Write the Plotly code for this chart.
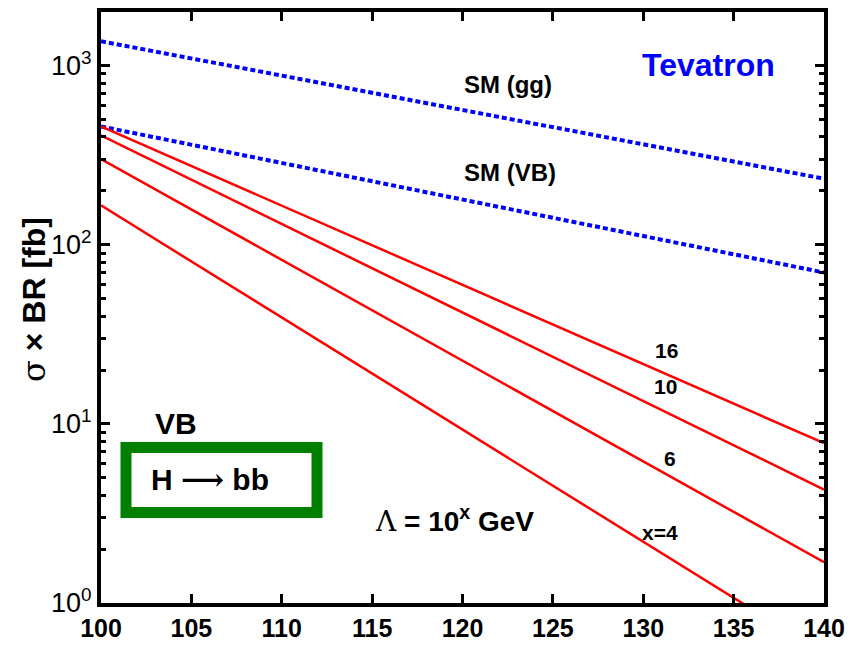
import plotly.graph_objects as go

# Higgs mass grid (GeV) and cross section x branching ratio (fb)
mass = [100, 140]
sm_gg = [1370, 234]
sm_vb = [458, 70]
vb_lambda16 = [458, 7.8]
vb_lambda10 = [408, 4.3]
vb_lambda6 = [301, 1.69]
vb_lambda4 = [166, 0.52]

x_ticks = [100, 105, 110, 115, 120, 125, 130, 135, 140]
y_ticks = [1, 10, 100, 1000]
y_tick_text = ["10<sup>0</sup>", "10<sup>1</sup>", "10<sup>2</sup>", "10<sup>3</sup>"]
y_minor = [m * 10 ** e for e in range(0, 4) for m in range(2, 10)]

W, H = 852, 647
L, R, T, B = 101, 824, 12, 603
FONT = "Liberation Sans, Arial, Helvetica, sans-serif"
SERIF = "DejaVu Serif, Liberation Serif, serif"


def px(p):
    return (p - L) / (R - L)


def py(p):
    return (B - p) / (B - T)


fig = go.Figure()

for ys in (sm_gg, sm_vb):
    fig.add_trace(go.Scatter(x=mass, y=ys, mode="lines",
                             line=dict(color="#0000ff", width=4, dash="5px,3px"),
                             showlegend=False, hoverinfo="skip"))

for ys in (vb_lambda16, vb_lambda10, vb_lambda6, vb_lambda4):
    fig.add_trace(go.Scatter(x=mass, y=ys, mode="lines",
                             line=dict(color="#ff0000", width=2.5),
                             showlegend=False, hoverinfo="skip"))

axis_common = dict(showline=True, linecolor="black", linewidth=4, mirror="allticks",
                   ticks="inside", tickcolor="black", tickwidth=2.5, ticklen=9,
                   showgrid=False, zeroline=False, automargin=False)

fig.update_xaxes(range=[100, 140], tickmode="array", tickvals=x_ticks,
                 ticktext=[f"<b>{v}</b>" for v in x_ticks],
                 tickfont=dict(family=FONT, size=25, color="black"), **axis_common)
fig.update_yaxes(type="log", range=[0, 3.3], tickmode="array", tickvals=y_ticks,
                 ticktext=y_tick_text,
                 tickfont=dict(family=FONT, size=27, color="black"),
                 minor=dict(tickmode="array", tickvals=y_minor, ticks="inside",
                            ticklen=5, tickwidth=2.5, tickcolor="black", showgrid=False),
                 **axis_common)

# Channel box
fig.add_shape(type="rect", xref="paper", yref="paper",
              x0=px(126), x1=px(317), y0=py(512.5), y1=py(447.5),
              line=dict(color="#008000", width=11), fillcolor="rgba(0,0,0,0)")


def label(text, x, y, size, color="black", angle=0):
    fig.add_annotation(text=text, xref="paper", yref="paper", x=px(x), y=py(y),
                       showarrow=False, xanchor="center", yanchor="middle",
                       textangle=angle,
                       font=dict(family=FONT, size=size, color=color))


label("<b>SM (gg)</b>", 508, 84, 24)
label("<b>SM (VB)</b>", 510, 172, 24)
label("<b>Tevatron</b>", 708, 65, 32, color="#0000ff")
label("<b>16</b>", 666, 350, 21)
label("<b>10</b>", 665, 386, 21)
label("<b>6</b>", 670, 459, 21)
label("<b>x=4</b>", 660, 532, 21)
label("<b>VB</b>", 176, 423, 30)
label(f"<b>H <span style='font-family:{SERIF}'>⟶</span> bb</b>", 210, 480, 30)
label(f"<span style='font-family:{SERIF}'>Λ</span><b> = 10<sup>x</sup> GeV</b>", 454, 519, 28)
label(f"<span style='font-family:{SERIF}'>σ</span><b> × BR [fb]</b>", 34, 300, 32, angle=-90)

fig.update_layout(width=W, height=H, margin=dict(l=L, r=W - R, t=T, b=H - B),
                  paper_bgcolor="white", plot_bgcolor="white", showlegend=False)

fig.write_html("out.html")
